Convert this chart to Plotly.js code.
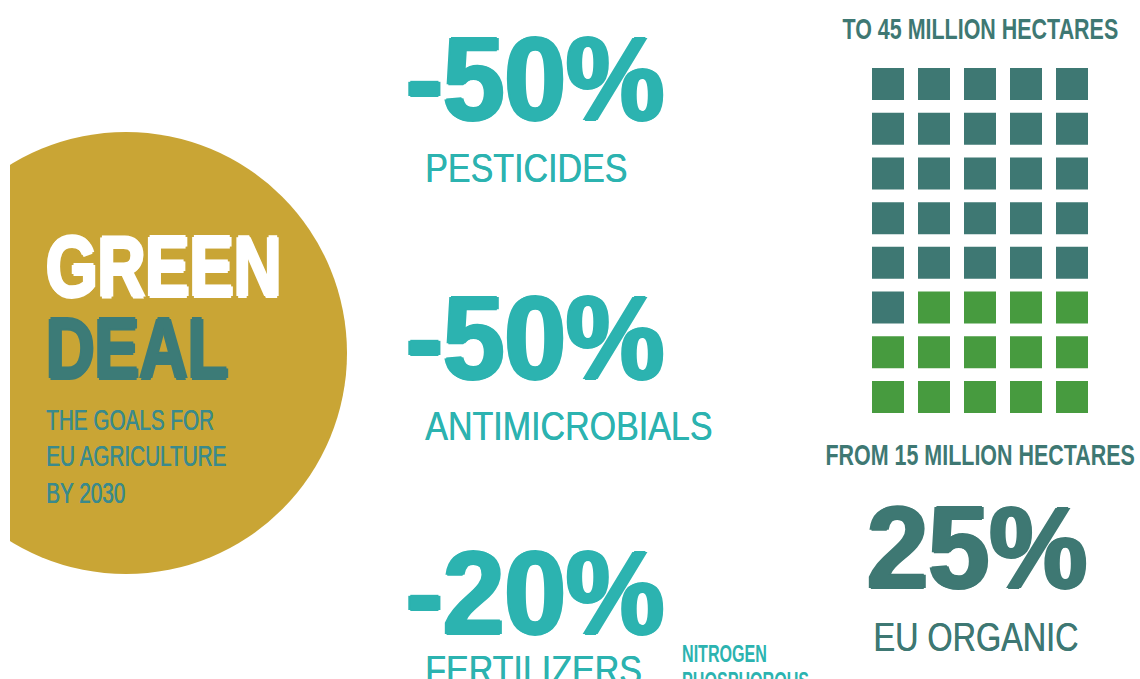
<!DOCTYPE html>
<html>
<head>
<meta charset="utf-8">
<script src="https://cdn.plot.ly/plotly-3.0.1.min.js"></script>
<style>
  html, body { margin: 0; padding: 0; background: #ffffff; }
  #chart { width: 1140px; height: 679px; }
</style>
</head>
<body>
<div id="chart"></div>
<script>
// ---- data read from the infographic ----
const headline = ['GREEN', 'DEAL'];
const subtitleLines = ['THE GOALS FOR', 'EU AGRICULTURE', 'BY 2030'];
const goalValues = ['-50%', '-50%', '-20%'];
const goalLabels = ['PESTICIDES', 'ANTIMICROBIALS', 'FERTILIZERS'];
const fertilizerNutrients = ['NITROGEN', 'PHOSPHOROUS'];
const organicTarget = '25%';
const organicLabel = 'EU ORGANIC';
const hectaresFrom = 15;
const hectaresTo = 45;
const waffleRows = 8;
const waffleCols = 5;
const waffleOrganicCells = 14;

// ---- styling ----
const W = 1140, H = 679;
const cyan = '#2cb3b0';
const teal = '#3e7873';
const dealTeal = '#3c7b77';
const subTeal = '#3a8a8c';
const gold = '#c9a535';
const green = '#479b3f';
const px = x => x / W;
const py = y => 1 - y / H;
const heavy = (c, d) => `${d}px 0 0 ${c}, -${d}px 0 0 ${c}, 0 ${d * 0.7}px 0 ${c}, 0 -${d * 0.7}px 0 ${c}`;
const FONT = 'Liberation Sans, Arial, sans-serif';

// ---- waffle cells ----
const wx = [], wy = [], wc = [];
for (let r = 0; r < waffleRows; r++) {
  for (let c = 0; c < waffleCols; c++) {
    const i = r * waffleCols + c;
    wx.push(c);
    wy.push(r);
    wc.push(i >= waffleRows * waffleCols - waffleOrganicCells ? green : teal);
  }
}

const traces = [{
  type: 'scatter', mode: 'markers',
  x: wx, y: wy, xaxis: 'x', yaxis: 'y',
  marker: { symbol: 'square', size: 32, color: wc, line: { width: 0 } },
  hoverinfo: 'skip', showlegend: false
}];

// annotations plus a horizontal condensing factor for each (font is not condensed)
const annotations = [];
const annScale = [];
function ann(text, x, y, size, color, weight, scale, xanchor, shadow) {
  const font = { family: FONT, size: size, color: color, weight: weight };
  if (shadow) font.shadow = shadow;
  annotations.push({
    text: text, xref: 'paper', yref: 'paper', x: px(x), y: py(y),
    xanchor: xanchor || 'left', yanchor: 'middle', showarrow: false,
    borderpad: 0, borderwidth: 0, font: font
  });
  annScale.push(scale);
}

// circle texts
ann(headline[0], 46, 266, 86, '#ffffff', 700, 0.77, 'left', heavy('#ffffff', 2));
ann(headline[1], 46, 347.5, 86, dealTeal, 700, 0.78, 'left', heavy(dealTeal, 2));
const subY = [419, 455.5, 492];
subtitleLines.forEach((t, i) => ann(t, 46, subY[i], 30, subTeal, 400, 0.69, 'left', `0.5px 0 0 ${subTeal}`));

// goals
const valY = [78.5, 337.5, 592];
const labY = [167.5, 425.5, 670];
goalValues.forEach((v, i) => {
  ann(v, 406, valY[i], 119, cyan, 700, 0.93, 'left', heavy(cyan, 2));
  ann(goalLabels[i], 425, labY[i], 41, cyan, 400, 0.83, 'left', `0.4px 0 0 ${cyan}`);
});
ann(fertilizerNutrients[0], 682, 653.5, 23, cyan, 700, 0.70, 'left');
ann(fertilizerNutrients[1], 682, 681, 23, cyan, 700, 0.70, 'left');

// organic
ann(`TO ${hectaresTo} MILLION HECTARES`, 980, 29, 29, teal, 700, 0.74, 'center');
ann(`FROM ${hectaresFrom} MILLION HECTARES`, 980, 455, 29, teal, 700, 0.74, 'center');
ann(organicTarget, 977, 547.5, 117, teal, 700, 0.94, 'center', heavy(teal, 2));
ann(organicLabel, 976, 637, 41, teal, 400, 0.79, 'center', `0.4px 0 0 ${teal}`);

// circle geometry (pixels)
const cx = 126, cy = 353, cr = 221;
const shapes = [
  { type: 'circle', xref: 'paper', yref: 'paper', layer: 'below',
    x0: px(cx - cr), x1: px(cx + cr), y0: py(cy + cr), y1: py(cy - cr),
    fillcolor: gold, line: { width: 0 } },
  { type: 'rect', xref: 'paper', yref: 'paper', layer: 'below',
    x0: px(-5), x1: px(10), y0: 0, y1: 1,
    fillcolor: '#ffffff', line: { width: 0 } }
];

const layout = {
  width: W, height: H,
  margin: { l: 0, r: 0, t: 0, b: 0, pad: 0 },
  paper_bgcolor: '#ffffff', plot_bgcolor: 'rgba(0,0,0,0)',
  showlegend: false,
  xaxis: { domain: [px(865), px(1095)], range: [-0.5, waffleCols - 0.5], visible: false, fixedrange: true },
  yaxis: { domain: [py(419.4), py(61.6)], range: [waffleRows - 0.5, -0.5], visible: false, fixedrange: true },
  shapes: shapes,
  annotations: annotations
};

Plotly.newPlot('chart', traces, layout, { displayModeBar: false, staticPlot: true }).then(gd => {
  gd.querySelectorAll('g.annotation').forEach(g => {
    const i = +g.getAttribute('data-index');
    const t = g.querySelector('text.annotation-text');
    if (!t || !(i in annScale)) return;
    const origin = annotations[i].xanchor === 'center' ? 'center center' : 'left center';
    t.style.transformBox = 'fill-box';
    t.style.transformOrigin = origin;
    t.style.transform = `scaleX(${annScale[i]})`;
  });
});
</script>
</body>
</html>
